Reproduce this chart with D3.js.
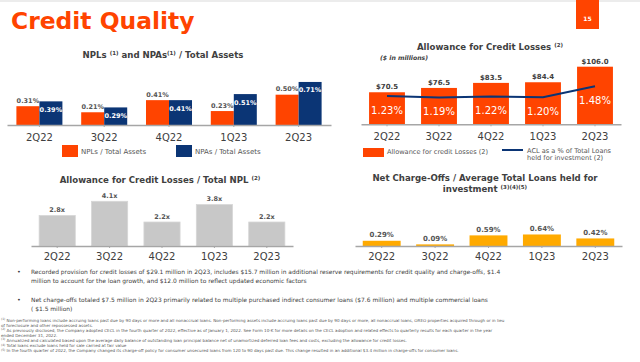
<!DOCTYPE html>
<html>
<head>
<meta charset="utf-8">
<script src="https://cdn.jsdelivr.net/npm/d3@7"></script>
<style>
  body { margin: 0; background: #ffffff; }
  svg { display: block; }
</style>
</head>
<body>
<div id="viz"></div>
<script>

const quarters = ["2Q22", "3Q22", "4Q22", "1Q23", "2Q23"]
const nplRatio = [0.31, 0.21, 0.41, 0.23, 0.50]
const npaRatio = [0.39, 0.29, 0.41, 0.51, 0.71]
const aclAmount = [70.5, 76.5, 83.5, 84.4, 106.0]
const aclPctLoans = [1.23, 1.19, 1.22, 1.20, 1.48]
const aclToNpl = [2.8, 4.1, 2.2, 3.8, 2.2]
const ncoRatio = [0.29, 0.09, 0.59, 0.64, 0.42]

const bullets = [
  ["Recorded provision for credit losses of $29.1 million in 2Q23, includes $15.7 million in additional reserve requirements for credit quality and charge-offs, $1.4",
   "million to account for the loan growth, and $12.0 million to reflect updated economic factors"],
  ["Net charge-offs totaled $7.5 million in 2Q23 primarily related to multiple purchased indirect consumer loans ($7.6 million) and multiple commercial loans",
   "( $1.5 million)"]
]

const footnotes = [
  ["(1)", "Non-performing loans include accruing loans past due by 90 days or more and all nonaccrual loans. Non-performing assets include accruing loans past due by 90 days or more, all nonaccrual loans, OREO properties acquired through or in lieu"],
  ["", "of foreclosure and other repossessed assets."],
  ["(2)", " As previously disclosed, the Company adopted CECL in the fourth quarter of 2022, effective as of January 1, 2022. See Form 10-K for more details on the CECL adoption and related effects to quarterly results for each quarter in the year"],
  ["", "ended December 31, 2022."],
  ["(3)", "Annualized and calculated based upon the average daily balance of outstanding loan principal balance net of unamortized deferred loan fees and costs, excluding the allowance for credit losses."],
  ["(4)", "Total loans exclude loans held for sale carried at fair value"],
  ["(5)", "In the fourth quarter of 2022, the Company changed its charge-off policy for consumer unsecured loans from 120 to 90 days past due. This change resulted in an additional $3.4 million in charge-offs for consumer loans."]
]

const font = "DejaVu Sans, Verdana, sans-serif"
const orange = "#ff4400"
const navy = "#0b3575"
const grey = "#c8c8c8"
const amber = "#ffaa00"
const textColor = "#404040"
const titleSize = 8.6

const width = 640
const height = 362

const svg = d3.select("#viz").append("svg")
  .attr("width", width)
  .attr("height", height)
  .style("background-color", "#ffffff")

// top rule
svg.append("rect")
  .attr("x", 0).attr("y", 0)
  .attr("width", width).attr("height", 2)
  .attr("fill", "#ececec")

svg.append("text")
  .attr("x", 11)
  .attr("y", 29)
  .attr("font-family", font)
  .attr("font-size", 23.4)
  .attr("font-weight", "700")
  .attr("fill", orange)
  .text("Credit Quality")

svg.append("rect")
  .attr("x", 576).attr("y", 0)
  .attr("width", 23).attr("height", 29)
  .attr("fill", orange)

svg.append("text")
  .attr("x", 587.5)
  .attr("y", 21)
  .attr("text-anchor", "middle")
  .attr("font-family", font)
  .attr("font-size", 6)
  .attr("font-weight", "700")
  .attr("fill", "#ffffff")
  .text("15")

function bottomAxis(x, yPos, padding) {
  const axis = svg.append("g")
    .attr("transform", `translate(0,${yPos})`)
    .call(d3.axisBottom(x).tickSizeInner(2).tickSizeOuter(0).tickPadding(padding))
  axis.select(".domain").attr("stroke", "#a6a6a6").attr("stroke-width", 1.5)
  axis.selectAll(".tick line").attr("stroke", "#a6a6a6")
  axis.selectAll(".tick text")
    .attr("font-size", 10)
    .attr("font-family", font)
    .attr("fill", textColor)
}

// title with superscript pieces: [text, isSup, dropBack]
function chartTitle(cx, y, parts) {
  const t = svg.append("text")
    .attr("x", cx)
    .attr("y", y)
    .attr("text-anchor", "middle")
    .attr("font-family", font)
    .attr("font-size", titleSize)
    .attr("font-weight", "700")
    .attr("fill", textColor)
  parts.forEach(p => {
    t.append("tspan")
      .attr("dy", p[1] ? -3 : 3 * (p[2] || 0))
      .attr("font-size", p[1] ? 5.5 : titleSize)
      .text(p[0])
  })
}

/* ---------- NPLs and NPAs / Total Assets ---------- */

const rows1 = quarters.map((q, i) => ({ q: q, npl: nplRatio[i], npa: npaRatio[i] }))

const x1 = d3.scaleBand()
  .domain(quarters)
  .range([7, 331])
  .paddingInner(0.29)
  .paddingOuter(0.145)

const x1in = d3.scaleBand()
  .domain(["npl", "npa"])
  .range([0, x1.bandwidth()])

const y1 = d3.scaleLinear()
  .domain([0, 0.8])
  .range([125, 125 - 48.5])

chartTitle(163, 58, [["NPLs ", false], ["(1)", true], [" and NPAs", false, 1], ["(1)", true], [" / Total Assets", false, 1]])

const g1 = svg.append("g")

g1.selectAll("rect.npl")
  .data(rows1)
  .enter()
  .append("rect")
  .attr("x", d => x1(d.q) + x1in("npl"))
  .attr("y", d => y1(d.npl))
  .attr("width", x1in.bandwidth())
  .attr("height", d => y1(0) - y1(d.npl))
  .attr("fill", orange)

g1.selectAll("rect.npa")
  .data(rows1)
  .enter()
  .append("rect")
  .attr("x", d => x1(d.q) + x1in("npa"))
  .attr("y", d => y1(d.npa))
  .attr("width", x1in.bandwidth())
  .attr("height", d => y1(0) - y1(d.npa))
  .attr("fill", navy)

g1.selectAll("text.npl")
  .data(rows1)
  .enter()
  .append("text")
  .attr("x", d => x1(d.q) + x1in("npl") + x1in.bandwidth() / 2)
  .attr("y", d => y1(d.npl) - 3.5)
  .attr("text-anchor", "middle")
  .attr("font-family", font)
  .attr("font-size", 6.5)
  .attr("font-weight", "700")
  .attr("fill", "#555555")
  .text(d => d3.format(".2f")(d.npl) + "%")

g1.selectAll("text.npa")
  .data(rows1)
  .enter()
  .append("text")
  .attr("x", d => x1(d.q) + x1in("npa") + x1in.bandwidth() / 2)
  .attr("y", d => y1(d.npa) + 10.5)
  .attr("text-anchor", "middle")
  .attr("font-family", font)
  .attr("font-size", 6.5)
  .attr("font-weight", "700")
  .attr("fill", "#ffffff")
  .text(d => d3.format(".2f")(d.npa) + "%")

bottomAxis(x1, 125, 6.5)

const legend1 = [["NPLs / Total Assets", orange, 62], ["NPAs / Total Assets", navy, 176]]
legend1.forEach(l => {
  svg.append("rect")
    .attr("x", l[2]).attr("y", 145)
    .attr("width", 16).attr("height", 12)
    .attr("fill", l[1])
  svg.append("text")
    .attr("x", l[2] + 19)
    .attr("y", 153.5)
    .attr("font-family", font)
    .attr("font-size", 7)
    .attr("fill", "#555555")
    .text(l[0])
})

/* ---------- Allowance for Credit Losses ---------- */

const rows2 = quarters.map((q, i) => ({ q: q, amt: aclAmount[i], pct: aclPctLoans[i] }))

const x2 = d3.scaleBand()
  .domain(quarters)
  .range([361, 621])
  .paddingInner(0.31)
  .paddingOuter(0.155)

const y2 = d3.scaleLinear()
  .domain([26, 110])
  .range([124.3, 124.3 - 0.72 * 84])

const y2pct = d3.scaleLinear()
  .domain([0, 2])
  .range([144, 66])

chartTitle(490, 50, [["Allowance for Credit Losses ", false], ["(2)", true]])

svg.append("text")
  .attr("x", 380)
  .attr("y", 59.5)
  .attr("font-family", font)
  .attr("font-size", 6.2)
  .attr("font-weight", "700")
  .attr("font-style", "italic")
  .attr("fill", textColor)
  .text("($ in millions)")

svg.selectAll("rect.acl")
  .data(rows2)
  .enter()
  .append("rect")
  .attr("x", d => x2(d.q))
  .attr("y", d => y2(d.amt))
  .attr("width", x2.bandwidth())
  .attr("height", d => y2(26) - y2(d.amt))
  .attr("fill", orange)

svg.selectAll("text.acl")
  .data(rows2)
  .enter()
  .append("text")
  .attr("x", d => x2(d.q) + x2.bandwidth() / 2)
  .attr("y", d => y2(d.amt) - 3)
  .attr("text-anchor", "middle")
  .attr("font-family", font)
  .attr("font-size", 7)
  .attr("font-weight", "700")
  .attr("fill", textColor)
  .text(d => d3.format("$.1f")(d.amt))

const line2 = d3.line()
  .x(d => x2(d.q) + x2.bandwidth() / 2)
  .y(d => y2pct(d.pct))

svg.append("path")
  .datum(rows2)
  .attr("d", line2)
  .attr("fill", "none")
  .attr("stroke", navy)
  .attr("stroke-width", 2)

svg.selectAll("text.pct")
  .data(rows2)
  .enter()
  .append("text")
  .attr("x", d => x2(d.q) + x2.bandwidth() / 2)
  .attr("y", d => y2pct(d.pct) + 17.5)
  .attr("text-anchor", "middle")
  .attr("font-family", font)
  .attr("font-size", 10)
  .attr("fill", "#ffffff")
  .text(d => d3.format(".2f")(d.pct) + "%")

bottomAxis(x2, 124.3, 6.5)

svg.append("rect")
  .attr("x", 363).attr("y", 148)
  .attr("width", 21).attr("height", 9)
  .attr("fill", orange)

svg.append("text")
  .attr("x", 387)
  .attr("y", 154)
  .attr("font-family", font)
  .attr("font-size", 6.6)
  .attr("fill", "#555555")
  .text("Allowance for credit Losses (2)")

svg.append("line")
  .attr("x1", 502).attr("x2", 523)
  .attr("y1", 150).attr("y2", 150)
  .attr("stroke", navy)
  .attr("stroke-width", 2)

svg.append("text")
  .attr("font-family", font)
  .attr("font-size", 6.6)
  .attr("fill", "#555555")
  .selectAll("tspan")
  .data(["ACL as a % of Total Loans", "held for investment (2)"])
  .enter()
  .append("tspan")
  .attr("x", 527)
  .attr("y", (d, i) => 153 + i * 6.5)
  .text(d => d)

/* ---------- Allowance for Credit Losses / Total NPL ---------- */

const rows3 = quarters.map((q, i) => ({ q: q, v: aclToNpl[i] }))

const x3 = d3.scaleBand()
  .domain(quarters)
  .range([31, 293])
  .paddingInner(0.31)
  .paddingOuter(0.155)

const y3 = d3.scaleLinear()
  .domain([0, 5])
  .range([246, 246 - 54.5])

chartTitle(160, 183, [["Allowance for Credit Losses / Total NPL ", false], ["(2)", true]])

svg.selectAll("rect.cov")
  .data(rows3)
  .enter()
  .append("rect")
  .attr("x", d => x3(d.q))
  .attr("y", d => y3(d.v))
  .attr("width", x3.bandwidth())
  .attr("height", d => y3(0) - y3(d.v))
  .attr("fill", grey)
  .attr("stroke", "#d6d6d6")
  .attr("stroke-width", 0.8)

svg.selectAll("text.cov")
  .data(rows3)
  .enter()
  .append("text")
  .attr("x", d => x3(d.q) + x3.bandwidth() / 2)
  .attr("y", d => y3(d.v) - 3.5)
  .attr("text-anchor", "middle")
  .attr("font-family", font)
  .attr("font-size", 6.5)
  .attr("font-weight", "700")
  .attr("fill", "#555555")
  .text(d => d3.format(".1f")(d.v) + "x")

bottomAxis(x3, 246, 5)

/* ---------- Net Charge-Offs / Average Total Loans ---------- */

const rows4 = quarters.map((q, i) => ({ q: q, v: ncoRatio[i] }))

const x4 = d3.scaleBand()
  .domain(quarters)
  .range([355, 622])
  .paddingInner(0.29)
  .paddingOuter(0.145)

const y4 = d3.scaleLinear()
  .domain([0, 1])
  .range([246, 228])

chartTitle(485, 181, [["Net Charge-Offs / Average Total Loans held for", false]])
chartTitle(485, 192, [["investment ", false], ["(3)(4)(5)", true]])

svg.selectAll("rect.nco")
  .data(rows4)
  .enter()
  .append("rect")
  .attr("x", d => x4(d.q))
  .attr("y", d => y4(d.v))
  .attr("width", x4.bandwidth())
  .attr("height", d => y4(0) - y4(d.v))
  .attr("fill", amber)

svg.selectAll("text.nco")
  .data(rows4)
  .enter()
  .append("text")
  .attr("x", d => x4(d.q) + x4.bandwidth() / 2)
  .attr("y", d => y4(d.v) - 3.5)
  .attr("text-anchor", "middle")
  .attr("font-family", font)
  .attr("font-size", 7)
  .attr("font-weight", "700")
  .attr("fill", "#555555")
  .text(d => d3.format(".2f")(d.v) + "%")

bottomAxis(x4, 246, 5)

/* ---------- bullets + footnotes ---------- */

bullets.forEach((b, i) => {
  const top = 274 + i * 28
  svg.append("text")
    .attr("x", 17)
    .attr("y", top)
    .attr("font-family", font)
    .attr("font-size", 6.5)
    .attr("fill", textColor)
    .text("\u2022")
  b.forEach((line, j) => {
    svg.append("text")
      .attr("x", 31)
      .attr("y", top + j * 8.5)
      .attr("font-family", font)
      .attr("font-size", 5.95)
      .attr("fill", textColor)
      .text(line)
  })
})

footnotes.forEach((f, i) => {
  const t = svg.append("text")
    .attr("x", 1)
    .attr("y", 321.5 + i * 5.1)
    .attr("font-family", font)
    .attr("fill", "#595959")
  t.append("tspan")
    .attr("font-size", 3)
    .attr("dy", -1.5)
    .text(f[0])
  t.append("tspan")
    .attr("font-size", 4.12)
    .attr("dy", f[0] ? 1.5 : 0)
    .text(f[0] ? " " + f[1] : f[1])
})

</script>
</body>
</html>
